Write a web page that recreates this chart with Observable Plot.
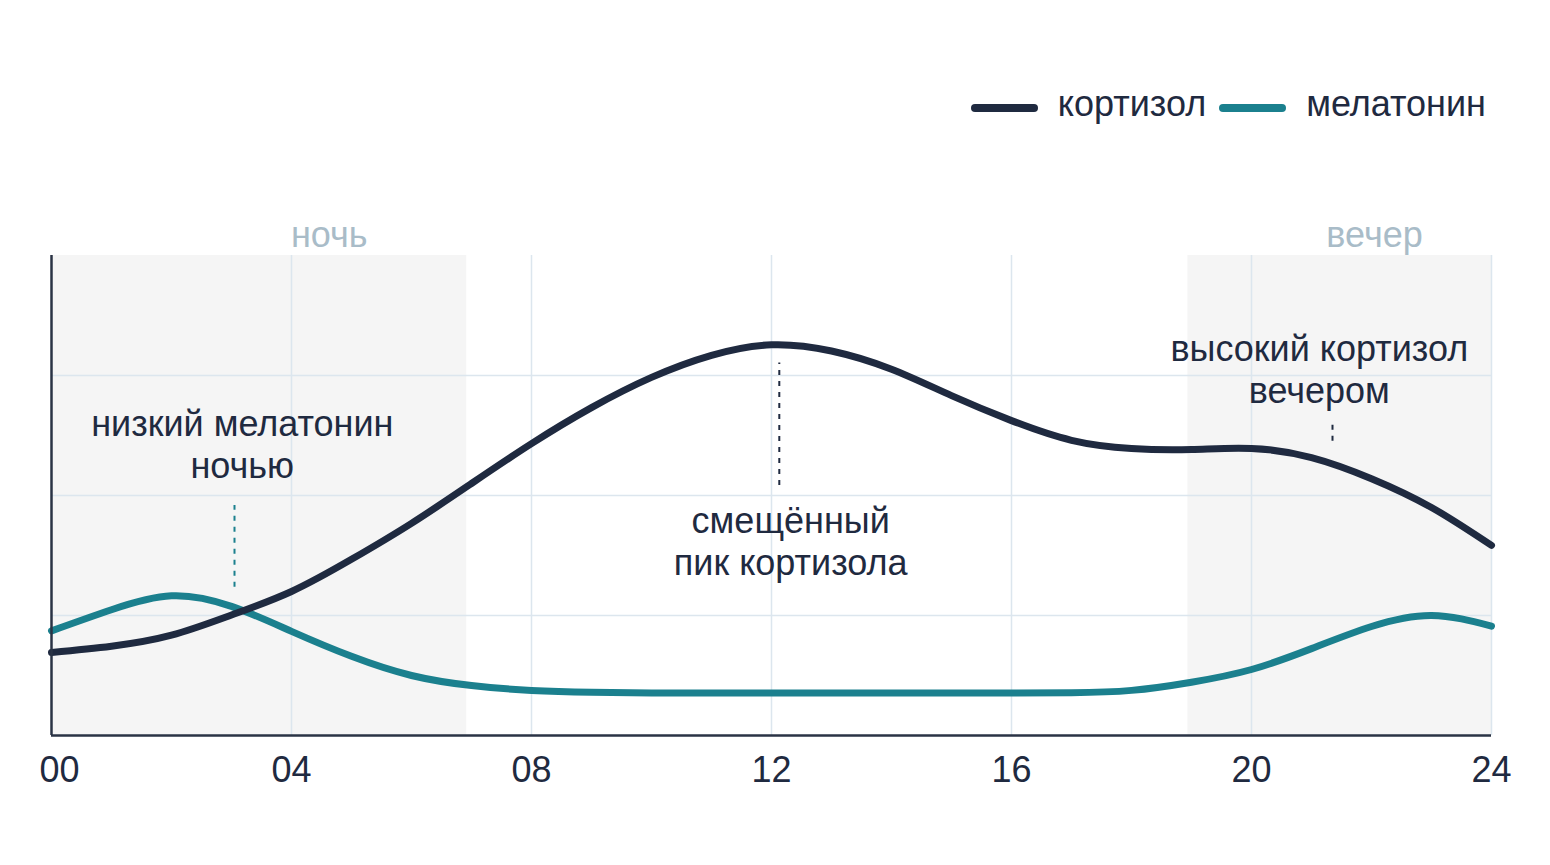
<!DOCTYPE html>
<html>
<head>
<meta charset="utf-8">
<script src="https://cdn.jsdelivr.net/npm/d3@7"></script>
<script src="https://cdn.jsdelivr.net/npm/@observablehq/plot@0.6"></script>
<style>
  html, body { margin: 0; padding: 0; background: #ffffff; }
  #wrap { position: relative; width: 1550px; height: 865px; font-family: "Liberation Sans", Arial, sans-serif; }
  #legend { position: absolute; top: 84px; right: 64px; height: 40px; line-height: 40px; display: flex; align-items: center; font-size: 36px; color: #1f2a40; }
  .sw { width: 67px; height: 8px; border-radius: 4px; position: relative; top: 4px; }
  #chart { position: absolute; left: 0; top: 200px; }
</style>
</head>
<body>
<div id="wrap">
  <div id="legend"></div>
  <div id="chart"></div>
</div>
<script>
// ---- data ----
const hours = [0, 1, 2, 3, 4, 5, 6, 7, 8, 9, 10, 11, 12, 13, 14, 15, 16, 17, 18, 19, 20, 21, 22, 23, 24];
const cortisol = [17.3, 18.6, 20.9, 25.1, 30.0, 36.7, 44.2, 52.5, 60.8, 68.3, 74.6, 79.2, 81.4, 80.1, 76.3, 70.8, 65.6, 61.5, 59.8, 59.6, 59.8, 57.9, 53.5, 47.5, 39.6];
const melatonin = [21.8, 26.2, 29.1, 26.9, 21.7, 16.5, 12.5, 10.4, 9.4, 9.0, 8.85, 8.85, 8.85, 8.85, 8.85, 8.85, 8.85, 8.9, 9.4, 11.1, 13.75, 18.1, 22.7, 25.0, 22.8];
const seriesNames = ["кортизол", "мелатонин"];
const seriesColors = ["#1f2a40", "#1b808e"];

const xTicks = [0, 4, 8, 12, 16, 20, 24];
const yGrid = [25, 50, 75];

const bandStart = [0, 18.94];
const bandEnd = [6.92, 24];
const bandLabels = ["ночь", "вечер"];
const bandLabelX = [4.63, 22.05];

const annoText = ["низкий мелатонин\nночью", "смещённый\nпик кортизола", "высокий кортизол\nвечером"];
const annoX = [3.18, 12.32, 21.13];
const annoY = [60.9, 40.6, 76.5];

const leaderX = [3.05, 12.13, 21.35];
const leaderY1 = [30.9, 52.1, 61.3];
const leaderY2 = [47.9, 77.6, 65.1];
const leaderColor = ["#1b808e", "#1f2a40", "#1f2a40"];

// ---- build ----
const dark = "#1f2a40";
const gridColor = "#dce6ee";
const FONT = "'Liberation Sans', Arial, sans-serif";
const FS = 36;

const rowsM = hours.map((h, i) => ({hour: h, value: melatonin[i], series: seriesNames[1]}));
const rowsC = hours.map((h, i) => ({hour: h, value: cortisol[i], series: seriesNames[0]}));
const bandIdx = bandStart.map((_, i) => i);
const annoIdx = annoText.map((_, i) => i);
const leaderIdx = leaderX.map((_, i) => i);

const chart = Plot.plot({
  width: 1550,
  height: 665,
  marginTop: 55,
  marginBottom: 130,
  marginLeft: 51,
  marginRight: 59,
  x: {domain: [0, 24], axis: null},
  y: {domain: [0, 100], axis: null},
  style: {fontFamily: FONT, background: "transparent", overflow: "visible"},
  marks: [
    Plot.rect(bandIdx, {x1: i => bandStart[i], x2: i => bandEnd[i], y1: 0, y2: 100, fill: "#f5f5f5"}),
    Plot.gridX(xTicks.filter(t => t > 0), {stroke: gridColor, strokeOpacity: 1, strokeWidth: 1.5}),
    Plot.gridY(yGrid, {stroke: gridColor, strokeOpacity: 1, strokeWidth: 1.5}),
    Plot.line(rowsM, {x: "hour", y: "value", curve: "natural", stroke: seriesColors[1], strokeWidth: 7, strokeLinecap: "round", strokeLinejoin: "round"}),
    Plot.line(rowsC, {x: "hour", y: "value", curve: "natural", stroke: seriesColors[0], strokeWidth: 7, strokeLinecap: "round", strokeLinejoin: "round"}),
    Plot.ruleX([0], {stroke: "#2a3345", strokeWidth: 2.5}),
    Plot.ruleY([0], {stroke: "#2a3345", strokeWidth: 2.5}),
    Plot.axisX(xTicks.filter(t => t > 0), {tickSize: 0, tickPadding: 21, fontSize: FS, fill: dark, label: null, tickFormat: d => String(d).padStart(2, "0"), fontFamily: FONT}),
    Plot.axisX([0], {tickSize: 0, tickPadding: 21, fontSize: FS, fill: dark, label: null, dx: 8, tickFormat: d => String(d).padStart(2, "0"), fontFamily: FONT}),
    Plot.ruleX(leaderIdx, {x: i => leaderX[i], y1: i => leaderY1[i], y2: i => leaderY2[i], stroke: i => leaderColor[i], strokeWidth: 2, strokeDasharray: "5,6"}),
    Plot.text(annoIdx, {x: i => annoX[i], y: i => annoY[i], text: i => annoText[i], fontSize: FS, lineHeight: 1.18, lineAnchor: "middle", textAnchor: "middle", fill: dark, fontFamily: FONT}),
    Plot.text(bandIdx, {x: i => bandLabelX[i], y: 100, dy: -20, text: i => bandLabels[i], fontSize: FS, lineAnchor: "middle", textAnchor: "middle", fill: "#a9bcc8", fontFamily: FONT})
  ]
});
document.getElementById("chart").appendChild(chart);

// legend
const legend = document.getElementById("legend");
seriesNames.forEach((name, i) => {
  const sw = document.createElement("div");
  sw.className = "sw";
  sw.style.background = seriesColors[i];
  sw.style.marginRight = "20px";
  if (i > 0) sw.style.marginLeft = "13px";
  const t = document.createElement("span");
  t.textContent = name;
  legend.appendChild(sw);
  legend.appendChild(t);
});
</script>
</body>
</html>
